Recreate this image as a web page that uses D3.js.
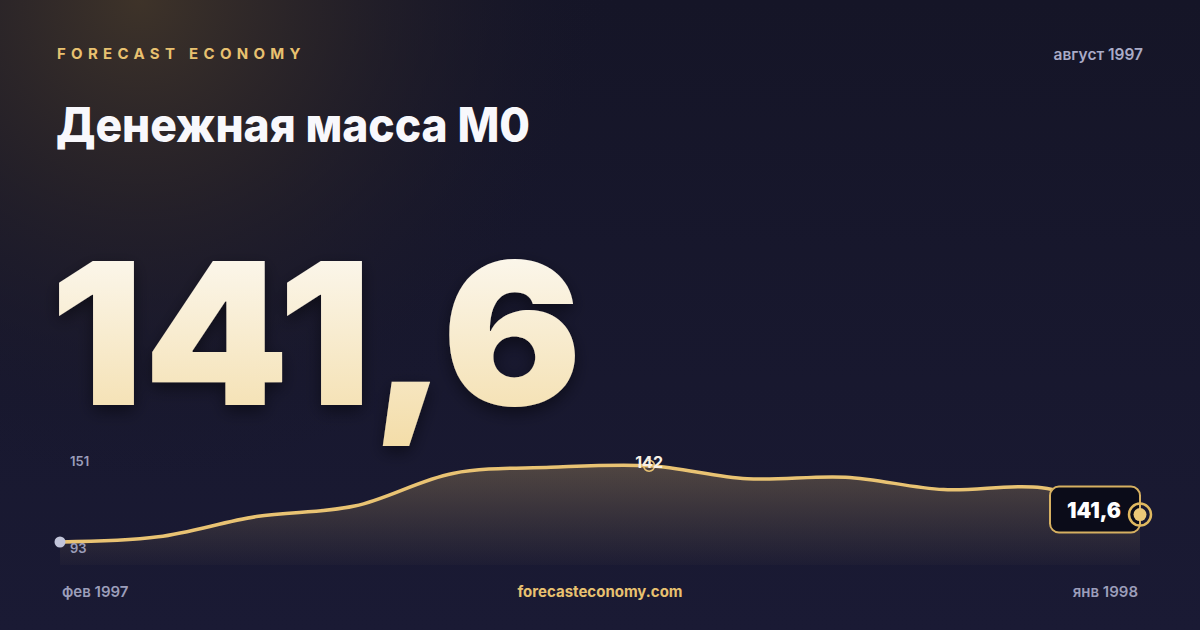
<!DOCTYPE html>
<html>
<head>
<meta charset="utf-8">
<script src="https://cdn.jsdelivr.net/npm/d3@7"></script>
<style>
  html, body { margin: 0; padding: 0; background: #15152a; }
  svg { display: block; }
</style>
</head>
<body>
<svg id="chart"></svg>
<script>
// Data
const months = ["фев 1997", "мар 1997", "апр 1997", "май 1997", "июн 1997", "июл 1997",
                "авг 1997", "сен 1997", "окт 1997", "ноя 1997", "дек 1997", "янв 1998"];
const m0Values = [93.0, 96.3, 109.2, 115.9, 136.7, 140.6, 141.6, 133.3, 134.3, 126.4, 127.6, 110.5];
const yExtentLabels = [93, 151];
const headlineValue = "141,6";
const headlineMonth = "август 1997";
const peakLabel = "142";

const width = 1200;
const height = 630;
const marginLeft = 60;
const marginRight = 60;
const chartBottom = 565;

const svg = d3.select("#chart")
  .attr("width", width)
  .attr("height", height)
  .attr("viewBox", [0, 0, width, height]);

const defs = svg.append("defs");

// Background: dark navy with a warm glow in the top-left corner
const bgBase = defs.append("linearGradient")
  .attr("id", "bgBase").attr("x1", 0).attr("y1", 0).attr("x2", 0).attr("y2", 1);
bgBase.append("stop").attr("offset", "0%").attr("stop-color", "#151527");
bgBase.append("stop").attr("offset", "100%").attr("stop-color", "#1a1a34");

const bgGlow = defs.append("radialGradient")
  .attr("id", "bgGlow")
  .attr("gradientUnits", "userSpaceOnUse")
  .attr("cx", 140).attr("cy", 0).attr("r", 480);
bgGlow.append("stop").attr("offset", "0%").attr("stop-color", "#3e3329").attr("stop-opacity", 1);
bgGlow.append("stop").attr("offset", "40%").attr("stop-color", "#2a2428").attr("stop-opacity", 0.8);
bgGlow.append("stop").attr("offset", "100%").attr("stop-color", "#15152a").attr("stop-opacity", 0);

const numGrad = defs.append("linearGradient")
  .attr("id", "numGrad").attr("x1", 0).attr("y1", 0).attr("x2", 0).attr("y2", 1);
numGrad.append("stop").attr("offset", "0%").attr("stop-color", "#fdfcfa");
numGrad.append("stop").attr("offset", "100%").attr("stop-color", "#f3dca6");

const areaGrad = defs.append("linearGradient")
  .attr("id", "areaGrad").attr("gradientUnits", "userSpaceOnUse")
  .attr("x1", 0).attr("y1", 460).attr("x2", 0).attr("y2", chartBottom);
areaGrad.append("stop").attr("offset", "0%").attr("stop-color", "#e8c170").attr("stop-opacity", 0.28);
areaGrad.append("stop").attr("offset", "100%").attr("stop-color", "#e8c170").attr("stop-opacity", 0.02);

const shadow = defs.append("filter").attr("id", "numShadow")
  .attr("x", "-10%").attr("y", "-10%").attr("width", "120%").attr("height", "130%");
shadow.append("feDropShadow").attr("dx", 0).attr("dy", 6).attr("stdDeviation", 8)
  .attr("flood-color", "#000000").attr("flood-opacity", 0.45);

svg.append("rect").attr("width", width).attr("height", height).attr("fill", "url(#bgBase)");
svg.append("rect").attr("width", width).attr("height", height).attr("fill", "url(#bgGlow)");

// Header
svg.append("text")
  .attr("x", 57).attr("y", 59)
  .attr("fill", "#e8c170")
  .style("font-family", "Inter, 'DejaVu Sans', sans-serif")
  .style("font-size", "15px").style("font-weight", 700)
  .style("letter-spacing", "5.3px")
  .text("FORECAST ECONOMY");

svg.append("text")
  .attr("x", 1143).attr("y", 60)
  .attr("text-anchor", "end")
  .attr("fill", "#a9abc7")
  .style("font-family", "Inter, 'DejaVu Sans', sans-serif")
  .style("font-size", "15.5px").style("font-weight", 600)
  .text(headlineMonth);

svg.append("text")
  .attr("x", 56).attr("y", 142)
  .attr("fill", "#f8f8fc")
  .attr("textLength", 474)
  .attr("lengthAdjust", "spacingAndGlyphs")
  .style("font-family", "Inter, 'DejaVu Sans', sans-serif")
  .style("font-size", "48px").style("font-weight", 800)
  .text("Денежная масса М0");

// Headline number
svg.append("text")
  .attr("x", 50).attr("y", 405)
  .attr("fill", "url(#numGrad)")
  .attr("filter", "url(#numShadow)")
  .attr("textLength", 532)
  .attr("lengthAdjust", "spacingAndGlyphs")
  .style("font-family", "Inter, 'DejaVu Sans', sans-serif")
  .style("font-size", "198px").style("font-weight", 900)
  .text(headlineValue);

// Scales
const x = d3.scalePoint()
  .domain(months)
  .range([marginLeft, width - marginRight]);

const y = d3.scaleLinear()
  .domain(yExtentLabels)
  .range([542, 451]);

const curve = d3.curveCatmullRom;

const area = d3.area()
  .x((d, i) => x(months[i]))
  .y0(chartBottom)
  .y1(d => y(d))
  .curve(curve);

const line = d3.line()
  .x((d, i) => x(months[i]))
  .y(d => y(d))
  .curve(curve);

svg.append("path")
  .datum(m0Values)
  .attr("fill", "url(#areaGrad)")
  .attr("d", area);

svg.append("path")
  .datum(m0Values)
  .attr("fill", "none")
  .attr("stroke", "#e9c373")
  .attr("stroke-width", 3.5)
  .attr("stroke-linejoin", "round")
  .attr("d", line);

// Extent labels
const labelFont = g => g
  .style("font-family", "Inter, 'DejaVu Sans', sans-serif")
  .style("font-size", "13px").style("font-weight", 600)
  .attr("fill", "#9c9eba");

svg.append("text")
  .attr("x", 70).attr("y", y(yExtentLabels[1]) + 15)
  .call(labelFont)
  .text(yExtentLabels[1]);

svg.append("text")
  .attr("x", 70).attr("y", y(yExtentLabels[0]) + 11)
  .call(labelFont)
  .text(yExtentLabels[0]);

// Start point
svg.append("circle")
  .attr("cx", x(months[0])).attr("cy", y(m0Values[0]))
  .attr("r", 5.5)
  .attr("fill", "#c2c5da");

// Peak marker
const peakIndex = d3.maxIndex(m0Values);
svg.append("circle")
  .attr("cx", x(months[peakIndex])).attr("cy", y(m0Values[peakIndex]))
  .attr("r", 5.5)
  .attr("fill", "none")
  .attr("stroke", "#e9c373")
  .attr("stroke-width", 1.5);

svg.append("text")
  .attr("x", x(months[peakIndex])).attr("y", y(m0Values[peakIndex]) + 2)
  .attr("text-anchor", "middle")
  .attr("fill", "#f6f1e6")
  .style("font-family", "Inter, 'DejaVu Sans', sans-serif")
  .style("font-size", "16px").style("font-weight", 700)
  .text(peakLabel);

// End badge
const lastX = x(months[months.length - 1]);
const lastY = y(m0Values[m0Values.length - 1]);

svg.append("rect")
  .attr("x", lastX - 90).attr("y", lastY - 28)
  .attr("width", 90).attr("height", 46)
  .attr("rx", 9)
  .attr("fill", "#0b0c19")
  .attr("stroke", "#d6b061")
  .attr("stroke-width", 2);

svg.append("text")
  .attr("x", lastX - 46).attr("y", lastY + 3)
  .attr("text-anchor", "middle")
  .attr("fill", "#ffffff")
  .style("font-family", "Inter, 'DejaVu Sans', sans-serif")
  .style("font-size", "21px").style("font-weight", 900)
  .text(headlineValue);

svg.append("circle")
  .attr("cx", lastX).attr("cy", lastY)
  .attr("r", 11)
  .attr("fill", "none")
  .attr("stroke", "#e0b960")
  .attr("stroke-width", 2.5);

svg.append("circle")
  .attr("cx", lastX).attr("cy", lastY)
  .attr("r", 6.5)
  .attr("fill", "#ecc878");

// Footer
const footFont = g => g
  .style("font-family", "Inter, 'DejaVu Sans', sans-serif")
  .style("font-size", "15px").style("font-weight", 600);

svg.append("text")
  .attr("x", 62).attr("y", 597)
  .attr("fill", "#9c9eba")
  .call(footFont)
  .text(months[0]);

svg.append("text")
  .attr("x", 1138).attr("y", 597)
  .attr("text-anchor", "end")
  .attr("fill", "#9c9eba")
  .call(footFont)
  .text(months[months.length - 1]);

svg.append("text")
  .attr("x", 600).attr("y", 597)
  .attr("text-anchor", "middle")
  .attr("fill", "#e8c170")
  .call(footFont)
  .style("font-weight", 700)
  .text("forecasteconomy.com");
</script>
</body>
</html>
